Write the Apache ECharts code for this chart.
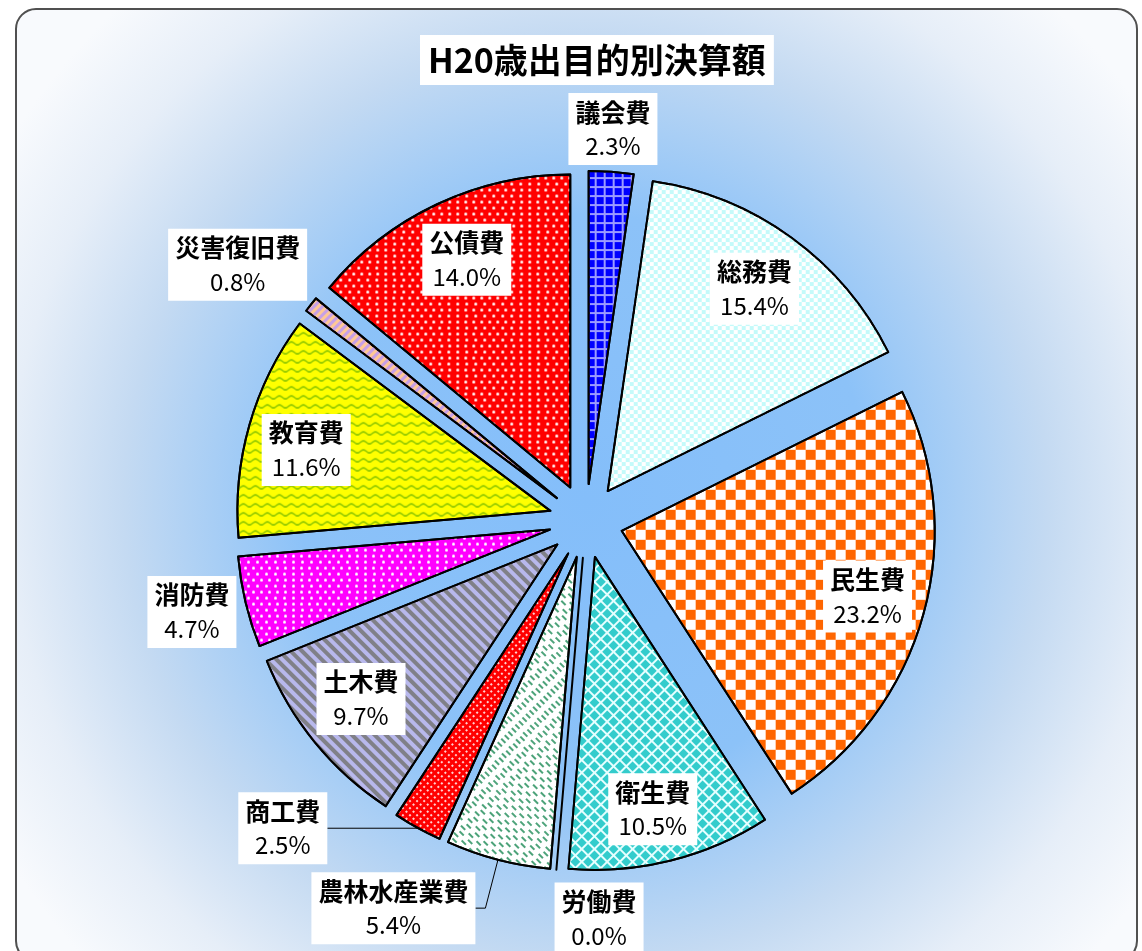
<!DOCTYPE html>
<html><head><meta charset="utf-8">
<script src="https://cdn.jsdelivr.net/npm/echarts@6/dist/echarts.min.js"></script>
<style>html,body{margin:0;padding:0;background:#fff}#c{width:1142px;height:951px}</style>
</head><body><div id="c"></div>
<script>
// ---- data ----
const chartTitle = 'H20歳出目的別決算額';
const categories = ['議会費','総務費','民生費','衛生費','労働費','農林水産業費','商工費','土木費','消防費','教育費','災害復旧費','公債費'];
const values = [2.3, 15.4, 23.2, 10.5, 0.0, 5.4, 2.5, 9.7, 4.7, 11.6, 0.8, 14.0];

// label groups
const innerLabels = ['総務費','民生費','衛生費','土木費','教育費','公債費'];
const outerLabelsA = ['議会費','消防費','労働費'];
const outerLabelsB = ['災害復旧費'];
const leaderLabels = ['農林水産業費','商工費'];

// ---- styles ----
const FONT = '"Noto Sans CJK JP", "Noto Sans", sans-serif';
const fills = {
  '議会費': {color:'#9C9CFF', decal:{symbol:'rect', symbolSize:1, color:'#0000FF', dashArrayX:[7,2], dashArrayY:[7,2]}},
  '総務費': {color:'#FFFFFF', decal:{symbol:'rect', symbolSize:1, color:'#C4FAFA', dashArrayX:[[4,4],[0,4,4,0]], dashArrayY:[4,0]}},
  '民生費': {color:'#FFFFFF', decal:{symbol:'rect', symbolSize:1, color:'#FF6600', dashArrayX:[[10,10],[0,10,10,0]], dashArrayY:[10,0]}},
  '衛生費': {color:'#E6FFFF', decal:{symbol:'rect', symbolSize:1, color:'#33CCCC', dashArrayX:[7,1.5], dashArrayY:[7,1.5], rotation:Math.PI/4}},
  '労働費': {color:'#FFFFFF', decal:null},
  '農林水産業費': {color:'#FFFFFF', decal:{symbol:'rect', symbolSize:1, color:'#4DA37A', dashArrayX:[[6,5],[0,5.5,6,0]], dashArrayY:[1.8,2.4], rotation:Math.PI/4}},
  '商工費': {color:'#FF0000', decal:{symbol:'rect', symbolSize:1, color:'#FFD0D0', dashArrayX:[2,2.5], dashArrayY:[2,2.5], rotation:Math.PI/4}},
  '土木費': {color:'#B8B8EC', decal:{symbol:'rect', symbolSize:1, color:'#808088', dashArrayX:[1,0], dashArrayY:[3.5,3.5], rotation:Math.PI/4}},
  '消防費': {color:'#FF00FF', decal:{symbol:'circle', symbolSize:1, color:'#FFFFFF', dashArrayX:[[2.5,5],[0,3.75,2.5,1.25]], dashArrayY:[2.5,2.5]}},
  '教育費': {color:'#FFFF00', decal:{symbol:'path://M0,2 C2,0 4,0 6,2 C8,4 10,4 12,2 L12,4 C10,6 8,6 6,4 C4,2 2,2 0,4 Z', symbolSize:1, symbolKeepAspect:false, color:'#99CC00', dashArrayX:[12,0], dashArrayY:[5,4]}},
  '災害復旧費': {color:'#FFC896', decal:{symbol:'rect', symbolSize:1, color:'#C8A0E6', dashArrayX:[1,0], dashArrayY:[2.5,2.5], rotation:-Math.PI/4}},
  '公債費': {color:'#FF0000', decal:{symbol:'circle', symbolSize:1, color:'#FFFFFF', dashArrayX:[[2.5,5],[0,3.75,2.5,1.25]], dashArrayY:[2.5,2.5]}}
};
const leaderLine = {
  '労働費': [12, 0.01],
  '農林水産業費': [50, 10],
  '商工費': [0.5, 90]
};
// small label nudges (px)
const labelNudge = {
  '議会費': [-2, 8], '総務費': [-3, 4], '民生費': [0, -2], '衛生費': [-4, 5],
  '土木費': [1, -7], '教育費': [1, 9], '公債費': [5, 3], '消防費': [-4, -2],
  '災害復旧費': [-5, 14], '労働費': [47, -2]
};

const CENTER = [586, 521];
const RADIUS = 313;

const labelBox = {
  backgroundColor: '#FFFFFF',
  padding: [2, 7],
  align: 'center',
  formatter: p => '{n|' + p.name + '}\n{p|' + Number(p.value).toFixed(1) + '%}',
  rich: {
    n: {fontFamily: FONT, fontSize: 25, fontWeight: 'bold', color: '#000', lineHeight: 34, align: 'center'},
    p: {fontFamily: FONT, fontSize: 24, fontWeight: 'normal', color: '#000', lineHeight: 34, align: 'center'}
  }
};

const realData = categories.map((name, i) => {
  const f = fills[name];
  const item = {
    name, value: values[i], selected: true,
    itemStyle: {color: f.color},
    label: {show: false},
    labelLine: {show: false}
  };
  if (f.decal) item.itemStyle.decal = f.decal;
  if (leaderLabels.includes(name)) {
    item.label = Object.assign({show: true, position: 'outside', distanceToLabelLine: 0}, labelBox);
  }
  if (leaderLine[name]) {
    item.labelLine = {show: true, length: leaderLine[name][0], length2: leaderLine[name][1], lineStyle: {color: '#000', width: 1}};
  }
  return item;
});

function labelSeries(names, r) {
  return {
    type: 'pie', center: CENTER, radius: [0, r], silent: true,
    startAngle: 90, clockwise: true, avoidLabelOverlap: false, minShowLabelAngle: -1,
    itemStyle: {color: 'rgba(0,0,0,0)', borderWidth: 0},
    emphasis: {disabled: true},
    labelLine: {show: false},
    label: Object.assign({position: 'inner'}, labelBox),
    z: 5,
    data: categories.map((name, i) => ({
      name, value: values[i],
      label: {show: names.includes(name), offset: labelNudge[name] || [0, 0]}
    }))
  };
}

const chart = echarts.init(document.getElementById('c'), null, {renderer: 'canvas'});
chart.setOption({
  animation: false,
  title: {
    text: chartTitle, left: 420, top: 35,
    backgroundColor: '#FFFFFF', padding: [8, 8],
    textStyle: {fontFamily: FONT, fontSize: 34, fontWeight: 'bold', color: '#000'}
  },
  graphic: [{
    type: 'rect', z: -10, silent: true,
    shape: {x: 16, y: 9, width: 1121, height: 952, r: 20},
    style: {
      fill: {type: 'radial', x: 586, y: 500, r: 680, global: true,
        colorStops: [
          {offset: 0, color: '#84BEFA'},
          {offset: 0.42, color: '#8CC2F8'},
          {offset: 0.68, color: '#C4DAF2'},
          {offset: 0.85, color: '#E6EEF8'},
          {offset: 1, color: '#F8FAFD'}
        ]},
      stroke: '#505050', lineWidth: 2
    }
  }],
  series: [
    {
      type: 'pie', center: CENTER, radius: RADIUS,
      startAngle: 90, clockwise: true, avoidLabelOverlap: false, minShowLabelAngle: -1,
      selectedMode: 'multiple', selectedOffset: 37,
      emphasis: {disabled: true},
      itemStyle: {borderColor: '#000', borderWidth: 2},
      select: {itemStyle: {borderColor: '#000', borderWidth: 2}},
      data: realData,
      z: 3
    },
    labelSeries(innerLabels, 578),
    labelSeries(outerLabelsA, 796),
    labelSeries(outerLabelsB, 868)
  ]
});
</script></body></html>
